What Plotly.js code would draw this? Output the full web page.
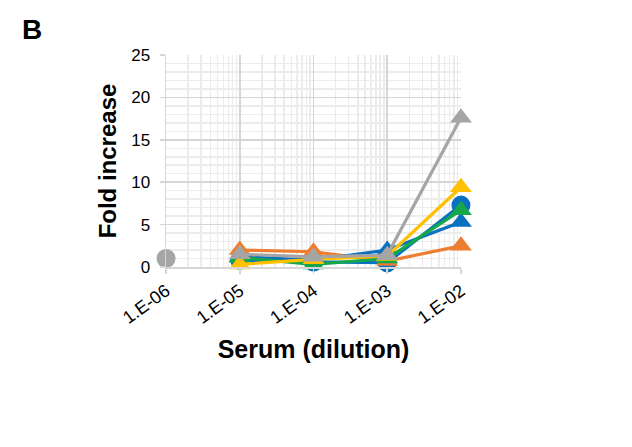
<!DOCTYPE html>
<html><head><meta charset="utf-8">
<script src="https://cdn.plot.ly/plotly-3.0.1.min.js"></script>
<style>body{margin:0;background:#fff}#c{width:632px;height:447px}</style>
</head><body><div id="c"></div>
<script>
const dilutions = [1e-5, 1e-4, 1e-3, 1e-2];
const tickVals = [1e-6, 1e-5, 1e-4, 1e-3, 1e-2];
const tickLabels = ['1.E-06', '1.E-05', '1.E-04', '1.E-03', '1.E-02'];
const blueCircle = [0.8, 0.6, 0.5, 7.3];
const orangeTri = [2.0, 1.8, 0.7, 2.5];
const blueTri = [1.2, 0.8, 2.0, 5.3];
const greenTri = [1.1, 0.3, 1.0, 6.7];
const yellowTri = [0.3, 0.9, 1.3, 9.4];
const grayTri = [1.5, 1.2, 1.4, 17.6];
const grayCircleX = [1e-6];
const grayCircleY = [1.0];

const C = {blue:'#0a70c0', orange:'#ed7d31', green:'#14a84a', yellow:'#ffc000', gray:'#a5a5a5'};
function tr(y, color, sym){
  return {x: dilutions, y: y, mode:'lines+markers', type:'scatter',
    line:{color:color, width:3.2}, marker:{color:color, symbol:sym, size:19}, cliponaxis:false, showlegend:false};
}
const data = [
  tr(blueCircle, C.blue, 'circle'),
  tr(orangeTri, C.orange, 'triangle-up'),
  tr(blueTri, C.blue, 'triangle-up'),
  tr(greenTri, C.green, 'triangle-up'),
  tr(yellowTri, C.yellow, 'triangle-up'),
  tr(grayTri, C.gray, 'triangle-up'),
  {x: grayCircleX, y: grayCircleY, mode:'markers', type:'scatter', marker:{color:C.gray, size:19}, cliponaxis:false, showlegend:false}
];
const layout = {
  width:632, height:447,
  margin:{l:166, r:171, t:55, b:180},
  paper_bgcolor:'#fff', plot_bgcolor:'#fff',
  font:{family:'Liberation Sans, Arial, sans-serif', size:17, color:'#000'},
  xaxis:{type:'log', range:[-6.0005,-1.9995], tickvals:tickVals, ticktext:tickLabels, tickangle:-36,
    showgrid:true, gridcolor:'#d6d6d6', gridwidth:1.5,
    minor:{showgrid:true, gridcolor:'#ececec', dtick:'D1'},
    showline:true, linecolor:'#d6d6d6', linewidth:1.5, zeroline:false,
    ticks:'outside', ticklen:5, tickcolor:'#d6d6d6', tickwidth:1.5, tickfont:{size:18}, ticklabelstandoff:0,
    title:{text:'<b>Serum (dilution)</b>', font:{size:25}, standoff:13}},
  yaxis:{range:[0,25], dtick:5, showgrid:true, gridcolor:'#d6d6d6', gridwidth:1.5,
    minor:{showgrid:true, gridcolor:'#ececec', dtick:1},
    showline:true, linecolor:'#d6d6d6', linewidth:1.5, zeroline:false,
    ticks:'outside', ticklen:5, tickcolor:'#d6d6d6', tickwidth:1.5, tickfont:{size:17},
    ticklabelstandoff:6,
    title:{text:'<b>Fold increase</b>', font:{size:24}, standoff:8}},
  annotations:[{text:'<b>B</b>', xref:'paper', yref:'paper', x:-0.495, y:1.04, xanchor:'left', yanchor:'bottom',
    showarrow:false, font:{size:28}}]
};
Plotly.newPlot('c', data, layout, {displayModeBar:false, staticPlot:true});
</script></body></html>
